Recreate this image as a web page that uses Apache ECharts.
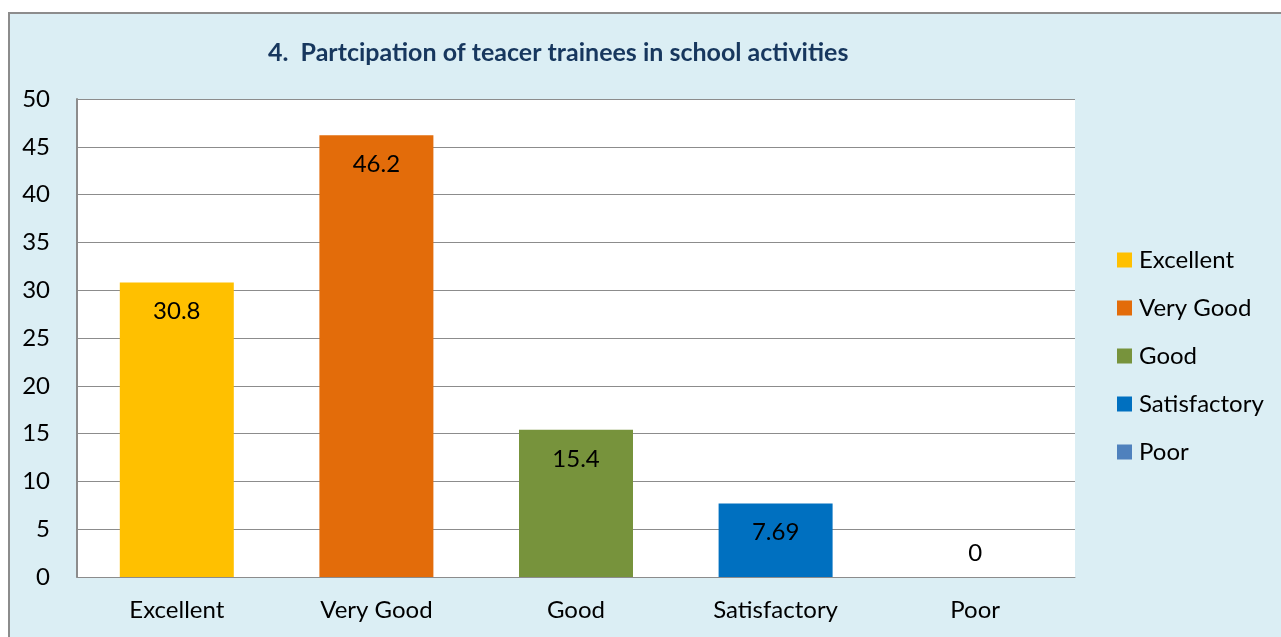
<!DOCTYPE html>
<html>
<head>
<meta charset="utf-8">
<script src="https://cdn.jsdelivr.net/npm/echarts@6/dist/echarts.min.js"></script>
<style>
  html, body { margin: 0; padding: 0; background: #ffffff; overflow: hidden; }
  #frame { position: absolute; left: 8px; top: 12px; width: 1290px; height: 640px;
           background: #dbeef4; border: 2px solid #8c8c8c; box-sizing: border-box; }
  #chart { position: absolute; left: 0; top: 0; width: 1281px; height: 637px; }
</style>
</head>
<body>
<div id="frame"></div>
<div id="chart"></div>
<script>
const titleText = '4.  Partcipation of teacer trainees in school activities';
const categories = ['Excellent', 'Very Good', 'Good', 'Satisfactory', 'Poor'];
const values = [30.8, 46.2, 15.4, 7.69, 0];
const colors = ['#ffc000', '#e36c0a', '#77933c', '#0070c0', '#4f81bd'];
const yTicks = { min: 0, max: 50, interval: 5 };

const font = "Lato, 'Open Sans', sans-serif";
const textSize = 24;

// one series per rating so the legend lists each; stacked so each bar sits centred
const series = categories.map((name, i) => ({
  name: name,
  type: 'bar',
  stack: 'all',
  barWidth: 114,
  itemStyle: { color: colors[i] },
  data: categories.map((_, j) => (j === i ? values[i] : '-')),
  label: {
    show: true,
    position: values[i] > 0 ? 'insideTop' : 'top',
    distance: values[i] > 0 ? 17 : 12,
    color: '#000000',
    fontFamily: font,
    fontSize: textSize
  }
}));

const chart = echarts.init(document.getElementById('chart'), null, { renderer: 'canvas' });
chart.setOption({
  backgroundColor: 'transparent',
  animation: false,
  title: {
    text: titleText,
    left: 263,
    top: 35,
    textStyle: { fontFamily: font, fontWeight: 'bold', fontSize: 25, color: '#17375e' }
  },
  legend: {
    orient: 'vertical',
    left: 1117,
    top: 248,
    padding: 0,
    itemWidth: 15,
    itemHeight: 15,
    itemGap: 24,
    icon: 'rect',
    textStyle: { fontFamily: font, fontSize: textSize, color: '#000000', padding: [0, 0, 0, 2] },
    data: categories
  },
  grid: { left: 77, top: 99, right: 206, bottom: 60, show: true, backgroundColor: '#ffffff', borderWidth: 0 },
  xAxis: {
    type: 'category',
    data: categories,
    axisTick: { show: false },
    axisLine: { lineStyle: { color: '#8c8c8c', width: 1 } },
    axisLabel: { fontFamily: font, fontSize: textSize, color: '#000000', margin: 21 }
  },
  yAxis: {
    type: 'value',
    min: yTicks.min,
    max: yTicks.max,
    interval: yTicks.interval,
    axisLine: { show: true, lineStyle: { color: '#8c8c8c', width: 2 } },
    axisTick: { show: false },
    splitLine: { lineStyle: { color: '#8c8c8c', width: 1 } },
    axisLabel: { fontFamily: font, fontSize: textSize, color: '#000000', margin: 27 }
  },
  series: series
});
</script>
</body>
</html>
